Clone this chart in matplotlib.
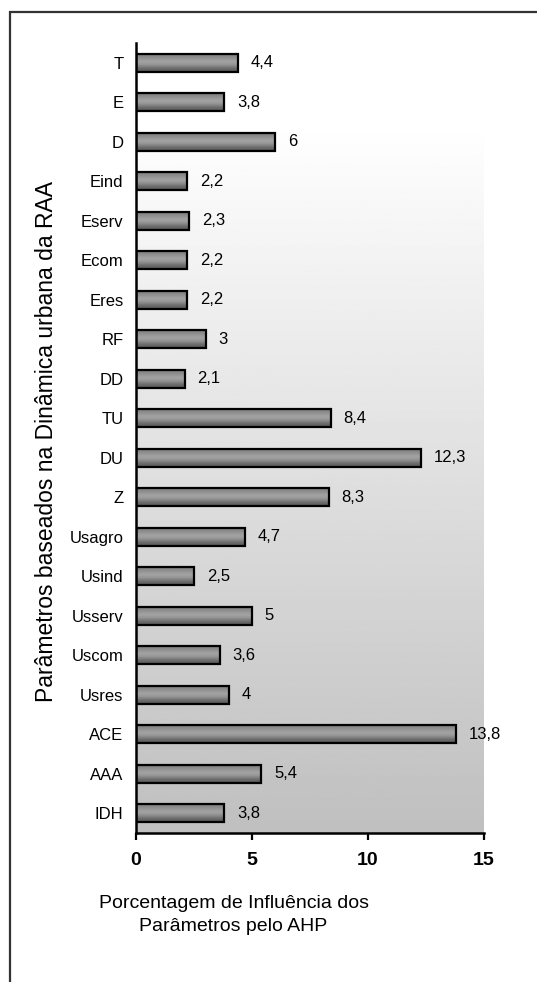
import numpy as np
import matplotlib.pyplot as plt
from matplotlib.patches import Rectangle

plt.rcParams['font.family'] = ['Liberation Sans', 'DejaVu Sans']

# data, listed bottom to top as barh draws them
params = ['IDH', 'AAA', 'ACE', 'Usres', 'Uscom', 'Usserv', 'Usind', 'Usagro',
          'Z', 'DU', 'TU', 'DD', 'RF', 'Eres', 'Ecom', 'Eserv', 'Eind',
          'D', 'E', 'T']
influence = [3.8, 5.4, 13.8, 4, 3.6, 5, 2.5, 4.7,
             8.3, 12.3, 8.4, 2.1, 3, 2.2, 2.2, 2.3, 2.2,
             6, 3.8, 4.4]
xticks = [0, 5, 10, 15]

fig = plt.figure(figsize=(5.37, 9.82), dpi=100)
ax = fig.add_axes([0.2533, 0.1517, 0.648, 0.8045])

# outer frame (runs off the right and bottom edges like the original)
fig.patches.append(Rectangle((10 / 537, -0.05), 1.2, 1 - 12 / 982 + 0.05,
                             transform=fig.transFigure, fill=False,
                             edgecolor='#333333', linewidth=1.6, zorder=0))

ypos = np.arange(len(params))
ax.set_xlim(0, 15)
ax.set_ylim(-0.5, len(params) - 0.5)

# plot area background: white at top fading to gray at bottom
t = np.linspace(0, 1, 300)
shade = np.where(t > 0.9, 1.0, 1.0 - 0.25 * (0.9 - t) / 0.9)
ax.imshow(shade[:, None], extent=[0, 15, -0.5, len(params) - 0.5],
          origin='lower', aspect='auto', cmap='gray', vmin=0, vmax=1,
          zorder=0)

bars = ax.barh(ypos, influence, height=0.45, facecolor='none',
               edgecolor='black', linewidth=1.6, zorder=3)

# striped shading inside each bar (bottom row first), darker at the bottom
prof = np.array([0.36, 0.4, 0.46, 0.54, 0.6, 0.63, 0.62, 0.58, 0.54, 0.5])
for b in bars:
    x0, y0 = b.get_x(), b.get_y()
    w, h = b.get_width(), b.get_height()
    im = ax.imshow(prof[:, None], extent=[x0, x0 + w, y0, y0 + h],
                   origin='lower', aspect='auto', cmap='gray', vmin=0, vmax=1,
                   zorder=2)
    im.set_clip_path(b)

for y, v in zip(ypos, influence):
    lab = ('%g' % v).replace('.', ',')
    ax.text(v + 0.55, y, lab, va='center', ha='left', fontsize=12, zorder=4)

ax.set_yticks(ypos)
ax.set_yticklabels(params, fontsize=12)
ax.tick_params(axis='y', length=0, pad=9)
ax.set_xticks(xticks)
ax.set_xticklabels([str(x) for x in xticks], fontsize=14, fontweight='bold')
ax.tick_params(axis='x', length=5, width=1.6, pad=9)

for s in ['top', 'right']:
    ax.spines[s].set_visible(False)
for s in ['left', 'bottom']:
    ax.spines[s].set_linewidth(1.8)
    ax.spines[s].set_zorder(5)

fig.text(0.435, 0.068, 'Porcentagem de Influência dos\nParâmetros pelo AHP',
         ha='center', va='center', fontsize=14, linespacing=1.45)
fig.text(0.0875, 0.55, 'Parâmetros baseados na Dinâmica urbana da RAA',
         rotation=90, ha='center', va='center', fontsize=16.5)

fig.savefig('out.png', dpi=100)
